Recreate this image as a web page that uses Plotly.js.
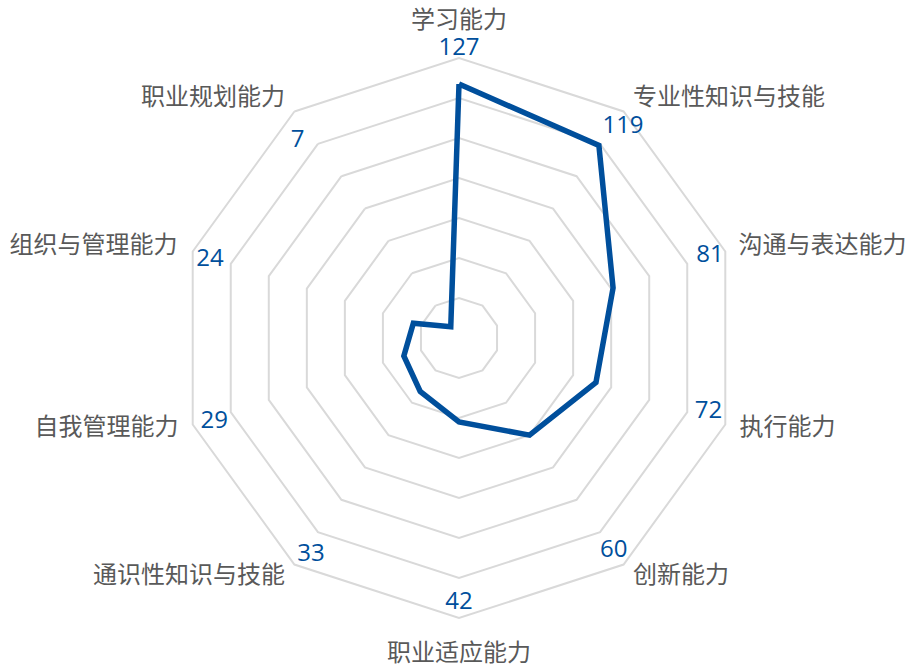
<!DOCTYPE html>
<html>
<head>
<meta charset="utf-8">
<script src="https://cdn.plot.ly/plotly-3.0.1.min.js"></script>
<style>html,body{margin:0;padding:0;background:#fff;}#chart{width:908px;height:669px;}</style>
</head>
<body>
<div id="chart"></div>
<script>
// Data
const categories = ['学习能力','专业性知识与技能','沟通与表达能力','执行能力','创新能力','职业适应能力','通识性知识与技能','自我管理能力','组织与管理能力','职业规划能力'];
const values = [127, 119, 81, 72, 60, 42, 33, 29, 24, 7];
const gridVals = [20, 40, 60, 80, 100, 120, 140];

const lineColor = '#004f9c';
const gridColor = '#d9d9d9';
const catColor = '#595959';

// closed line
const rClosed = values.concat([values[0]]);
const thetaClosed = categories.concat([categories[0]]);

// label placement (layout constants on an overlaid degree-based polar frame)
const valueLabelR = [144.5, 133.5, 132, 130.1, 131.7, 132.5, 131.3, 129.4, 130.5, 127.4];
const valueLabelDeg = [0, 37.9, 71.9, 106.5, 144, 180, 214.3, 251, 287.4, 320.7];
const catLabelR = [158, 148, 147, 147.5, 148, 158.5, 148, 147.5, 148, 148];
const catLabelDeg = [0, 36, 72, 108, 144, 180, 216, 252, 288, 324];
const catLabelPos = ['middle center','middle right','middle right','middle right','middle right','middle center','middle left','middle left','middle left','middle left'];

const traces = [
  {
    type: 'scatterpolar',
    r: rClosed,
    theta: thetaClosed,
    mode: 'lines',
    line: {color: lineColor, width: 5.5},
    hoverinfo: 'skip'
  },
  {
    type: 'scatterpolar',
    subplot: 'polar2',
    r: valueLabelR,
    theta: valueLabelDeg,
    mode: 'text',
    text: values.map(String),
    textposition: 'middle center',
    textfont: {family: 'Open Sans, Noto Sans, sans-serif', size: 24, color: lineColor},
    cliponaxis: false,
    hoverinfo: 'skip'
  },
  {
    type: 'scatterpolar',
    subplot: 'polar2',
    r: catLabelR,
    theta: catLabelDeg,
    mode: 'text',
    text: categories,
    textposition: catLabelPos,
    textfont: {family: '"Noto Sans CJK SC", sans-serif', size: 24, color: catColor},
    cliponaxis: false,
    hoverinfo: 'skip'
  }
];

const domain = {x: [129/908, 789/908], y: [1/669, 661/669]};

const layout = {
  width: 908,
  height: 669,
  margin: {l: 0, r: 0, t: 0, b: 0},
  paper_bgcolor: '#ffffff',
  showlegend: false,
  hovermode: false,
  font: {family: '"Noto Sans CJK SC", sans-serif', color: catColor},
  polar: {
    domain: domain,
    bgcolor: 'rgba(0,0,0,0)',
    gridshape: 'linear',
    radialaxis: {
      range: [0, 165],
      tickmode: 'array',
      tickvals: gridVals,
      showticklabels: false,
      ticks: '',
      showline: false,
      gridcolor: gridColor,
      gridwidth: 2
    },
    angularaxis: {
      type: 'category',
      categoryarray: categories,
      rotation: 90,
      direction: 'clockwise',
      showgrid: false,
      showline: false,
      ticks: '',
      showticklabels: false
    }
  },
  polar2: {
    domain: domain,
    bgcolor: 'rgba(0,0,0,0)',
    radialaxis: {
      range: [0, 165],
      visible: false,
      showgrid: false
    },
    angularaxis: {
      type: 'linear',
      thetaunit: 'degrees',
      rotation: 90,
      direction: 'clockwise',
      visible: false,
      showgrid: false,
      showline: false,
      ticks: '',
      showticklabels: false
    }
  }
};

Plotly.newPlot('chart', traces, layout, {displayModeBar: false, staticPlot: true});
</script>
</body>
</html>
